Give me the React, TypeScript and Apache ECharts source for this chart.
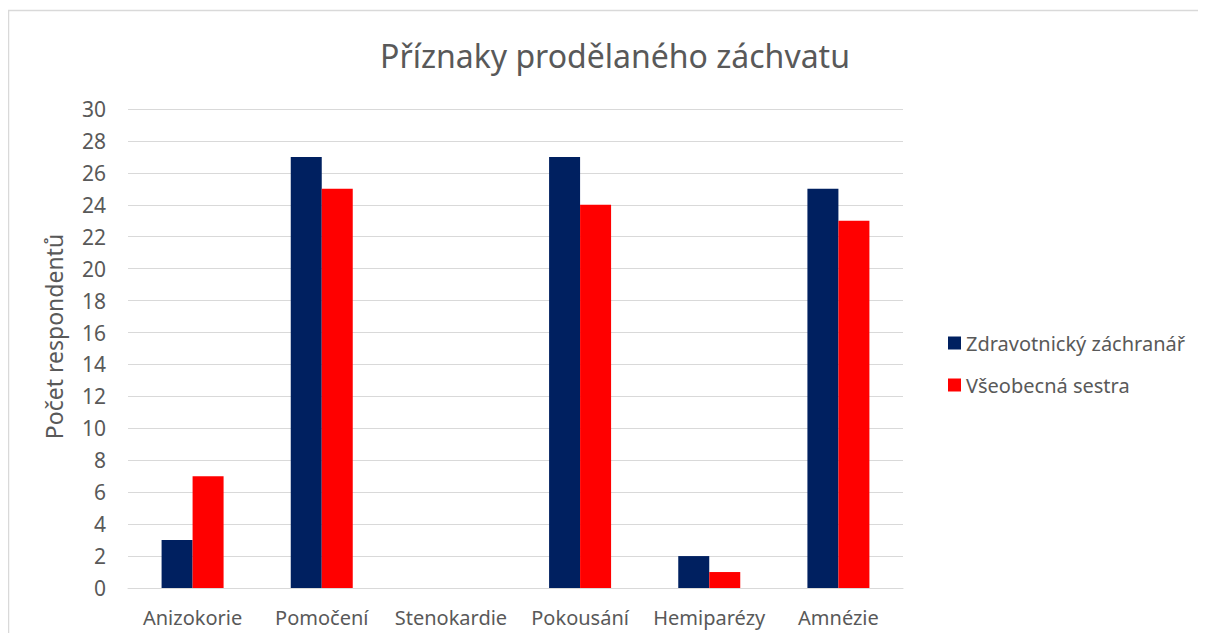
import React, { useEffect, useRef } from "react";
import * as echarts from "echarts";

const categories = ["Anizokorie", "Pomočení", "Stenokardie", "Pokousání", "Hemiparézy", "Amnézie"];
const zachranar = [3, 27, 0, 27, 2, 25];
const sestra = [7, 25, 0, 24, 1, 23];
const seriesNames = ["Zdravotnický záchranář", "Všeobecná sestra"];

export default function App() {
  const ref = useRef<HTMLDivElement>(null);
  useEffect(() => {
    const chart = echarts.init(ref.current!, undefined, { renderer: "svg" });
    const font = "Noto Sans";
    chart.setOption({
      animation: false,
      textStyle: { fontFamily: font },
      title: {
        text: "Příznaky prodělaného záchvatu",
        left: 602,
        textAlign: "center",
        top: 26,
        textStyle: { fontSize: 32, fontWeight: "normal", color: "#595959", fontFamily: font },
      },
      graphic: [
        {
          type: "rect",
          shape: { x: 0.5, y: 2.5, width: 1300, height: 800 },
          style: { fill: "none", stroke: "#d9d9d9", lineWidth: 1.5 },
          silent: true,
        },
      ],
      legend: {
        orient: "vertical",
        left: 935,
        top: 320,
        itemWidth: 13,
        itemHeight: 13,
        itemGap: 22,
        icon: "rect",
        textStyle: { fontSize: 20, color: "#595959", fontFamily: font },
        data: seriesNames,
      },
      grid: { left: 120, right: 303, top: 101, bottom: 45 },
      xAxis: {
        type: "category",
        data: categories,
        axisLine: { lineStyle: { color: "#d9d9d9", width: 1 } },
        axisTick: { show: false },
        axisLabel: { fontSize: 20, color: "#595959", margin: 19, interval: 0, fontFamily: font },
      },
      yAxis: {
        type: "value",
        min: 0,
        max: 30,
        interval: 2,
        name: "Počet respondentů",
        nameLocation: "middle",
        nameGap: 63,
        nameTextStyle: { fontSize: 23, color: "#595959", fontFamily: font, padding: [0, 0, 0, 24] },
        axisLine: { show: false },
        axisTick: { show: false },
        axisLabel: { fontSize: 21, color: "#595959", margin: 22, fontFamily: font },
        splitLine: { lineStyle: { color: "#d9d9d9", width: 1 } },
      },
      series: [
        {
          name: seriesNames[0],
          type: "bar",
          data: zachranar,
          itemStyle: { color: "#002060" },
          barGap: "0%",
          barCategoryGap: "52%",
        },
        {
          name: seriesNames[1],
          type: "bar",
          data: sestra,
          itemStyle: { color: "#ff0000" },
          barGap: "0%",
          barCategoryGap: "52%",
        },
      ],
    });
    return () => chart.dispose();
  }, []);
  return <div ref={ref} style={{ width: 1198, height: 625 }} />;
}
